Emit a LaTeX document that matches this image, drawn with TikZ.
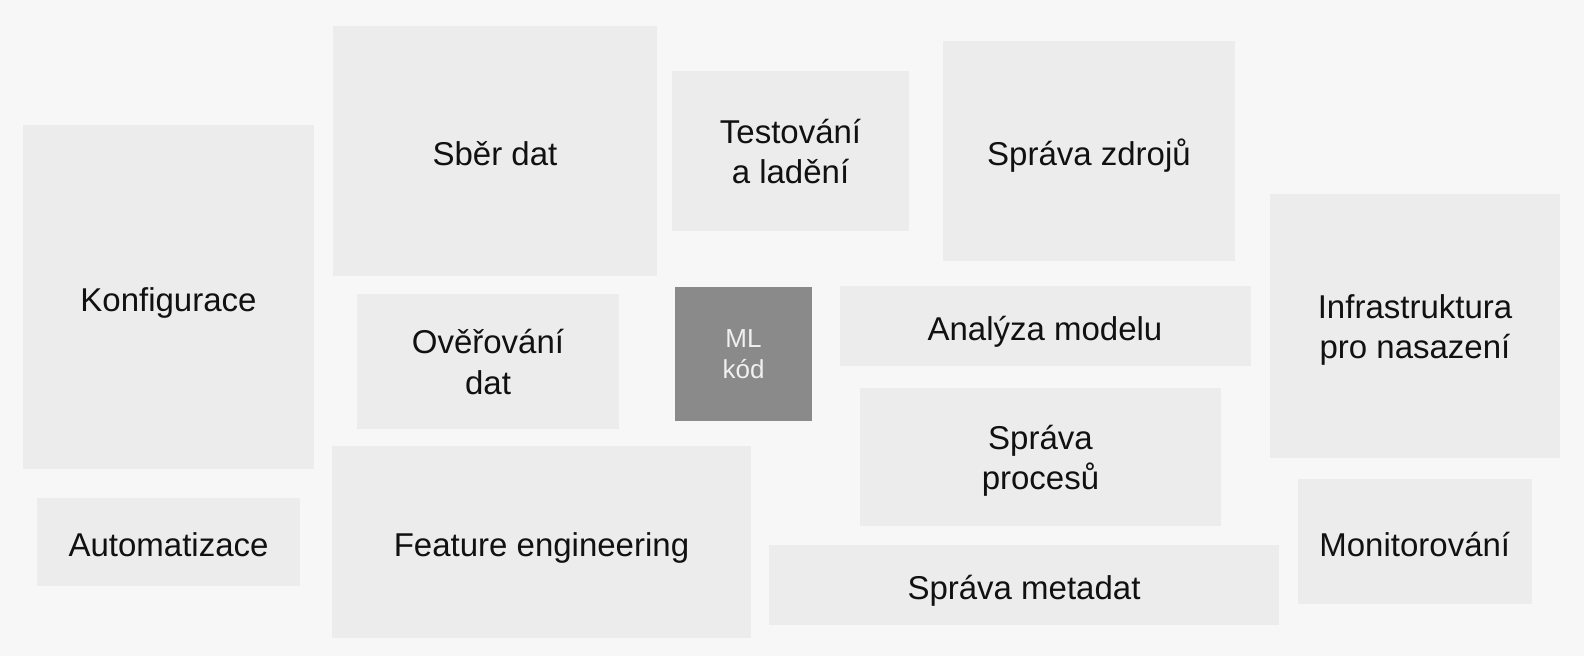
\documentclass[tikz,border=0pt]{standalone}
\usepackage{fontspec}
\setmainfont{Liberation Sans}
\definecolor{bg}{HTML}{F7F7F7}
\definecolor{boxc}{HTML}{ECECEC}
\definecolor{mlc}{HTML}{8A8A8A}
\definecolor{txt}{HTML}{111111}
\begin{document}
\begin{tikzpicture}[x=1pt,y=-1pt,
  box/.style={fill=boxc, draw=none, inner sep=0pt, align=center, text=txt,
    font=\fontsize{33}{40.5}\selectfont},
  onebox/.style={box, text height=29pt, text depth=0pt},
  twobox/.style={box, text height=65.5pt, text depth=0pt},
  mlbox/.style={fill=mlc, draw=none, inner sep=0pt, align=center, text=white!94!black,
    font=\fontsize{26}{31.5}\selectfont}]
\fill[bg] (0,0) rectangle (1584,656);
\useasboundingbox (0,0) rectangle (1584,656);
\node[onebox, minimum width=291pt, minimum height=344pt] (konf) at (168.5,297) {Konfigurace};
\node[onebox, minimum width=263pt, minimum height=88pt] (auto) at (168.5,542) {Automatizace};
\node[onebox, minimum width=324pt, minimum height=250pt] (sber) at (495,151) {Sběr dat};
\node[twobox, minimum width=262pt, minimum height=135pt] (over) at (488,361.5) {Ověřování\\dat};
\node[onebox, minimum width=419pt, minimum height=192pt] (feat) at (541.5,542) {Feature engineering};
\node[twobox, minimum width=237pt, minimum height=160pt] (test) at (790.5,151) {Testování\\a ladění};
\node[mlbox, minimum width=137pt, minimum height=134pt] (ml) at (743.5,354) {ML\\kód};
\node[onebox, minimum width=291.5pt, minimum height=220.5pt] (zdroj) at (1089,150.75) {Správa zdrojů};
\node[onebox, minimum width=411pt, minimum height=80pt] (anal) at (1045,326) {Analýza modelu};
\node[twobox, minimum width=361pt, minimum height=138pt] (proc) at (1040.5,457) {Správa\\procesů};
\node[onebox, minimum width=510pt, minimum height=80.5pt] (meta) at (1024,584.75) {Správa metadat};
\node[twobox, minimum width=290pt, minimum height=264.5pt] (infra) at (1415,326) {Infrastruktura\\pro nasazení};
\node[onebox, minimum width=233.5pt, minimum height=125pt] (monit) at (1414.75,541.5) {Monitorování};
\end{tikzpicture}
\end{document}
